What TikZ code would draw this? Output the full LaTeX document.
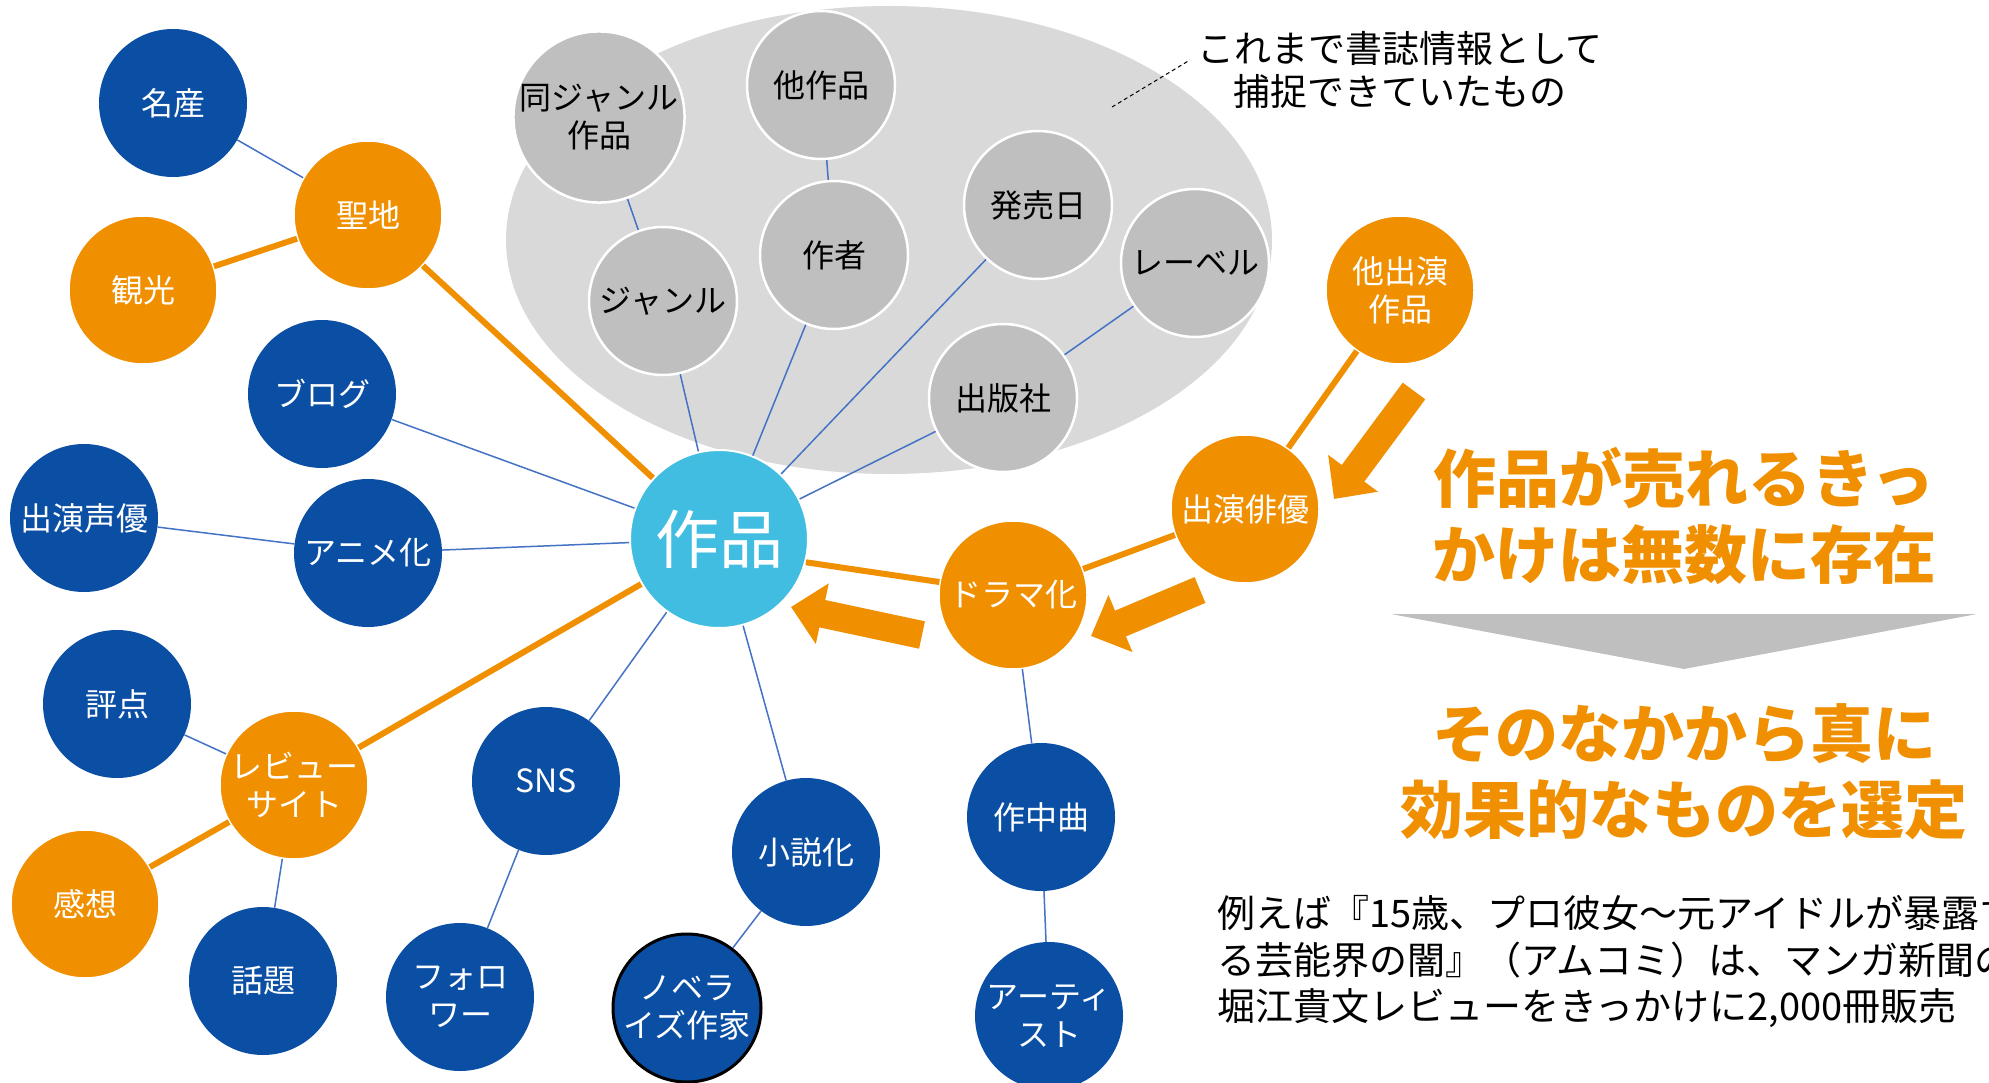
\documentclass[tikz,border=0pt]{standalone}
\usepackage{fontspec}
\newfontfamily\cjk{Noto Sans CJK JP}
\usetikzlibrary{arrows.meta}
\definecolor{nblue}{RGB}{11,79,164}
\definecolor{norange}{RGB}{240,144,0}
\definecolor{ncyan}{RGB}{64,189,224}
\definecolor{ngray}{RGB}{191,191,191}
\definecolor{nlgray}{RGB}{217,217,217}
\definecolor{nline}{RGB}{68,114,196}
\begin{document}
\begin{tikzpicture}[x=1pt,y=-1pt,
  base/.style={circle, minimum size=148pt, inner sep=0pt, align=center, font=\cjk\fontsize{32pt}{38pt}\selectfont},
  bnode/.style={base, fill=nblue, text=white},
  onode/.style={base, fill=norange, text=white, draw=white, line width=1.5pt},
  gnode/.style={base, fill=ngray, text=black, draw=white, line width=2.5pt},
  blink/.style={draw=nline, line width=1.5pt},
  olink/.style={draw=norange, line width=6pt},
  blockarrow/.style={draw=norange, line width=28pt, -{Triangle[width=60pt,length=32pt]}},
]
\useasboundingbox (0,0) rectangle (1989,1083);
\clip (0,0) rectangle (1989,1083);
\fill[white] (0,0) rectangle (1989,1083);

% grey cloud
\fill[nlgray] (889,240) ellipse [x radius=383, y radius=234];

% grey nodes
\node[gnode] (samegenre) at (599,117) {同ジャンル\\作品};
\node[gnode] (otherwork) at (821,85) {他作品};
\node[gnode] (genre) at (663,301) {ジャンル};
\node[gnode] (author) at (834,255) {作者};
\node[gnode] (release) at (1038,205) {発売日};
\node[gnode] (label) at (1195,263) {レーベル};
\node[gnode] (publisher) at (1003,398) {出版社};

% centre
\node[circle, minimum size=178pt, inner sep=0pt, fill=ncyan, draw=white, line width=2pt, text=white,
      font=\cjk\fontsize{64pt}{70pt}\selectfont] (work) at (719,539) {作品};

% left / bottom nodes
\node[bnode] (meisan) at (173,103) {名産};
\node[onode] (seichi) at (368,215) {聖地};
\node[onode] (kanko) at (143,290) {観光};
\node[bnode] (blog) at (322,394) {ブログ};
\node[bnode] (seiyu) at (84,518) {出演声優};
\node[bnode] (anime) at (368,553) {アニメ化};
\node[bnode] (hyoten) at (117,704) {評点};
\node[onode] (review) at (294,785) {レビュー\\サイト};
\node[onode] (kanso) at (85,904) {感想};
\node[bnode] (wadai) at (263,981) {話題};
\node[bnode] (sns) at (546,781) {SNS};
\node[bnode] (follower) at (460,997) {フォロ\\ワー};
\node[bnode] (novel) at (806,852) {小説化};
\node[bnode, draw=black, line width=3pt] (novelist) at (687,1008) {ノベラ\\イズ作家};
\node[bnode] (song) at (1041,817) {作中曲};
\node[bnode] (artist) at (1049,1016) {アーティ\\スト};
\node[onode] (drama) at (1013,595) {ドラマ化};
\node[onode] (actor) at (1245,509) {出演俳優};
\node[onode] (other) at (1400,290) {他出演\\作品};

% thin blue links
\draw[blink] (meisan) -- (seichi);
\draw[blink] (blog) -- (work);
\draw[blink] (seiyu) -- (anime);
\draw[blink] (anime) -- (work);
\draw[blink] (hyoten) -- (review);
\draw[blink] (review) -- (wadai);
\draw[blink] (sns) -- (work);
\draw[blink] (sns) -- (follower);
\draw[blink] (work) -- (novel);
\draw[blink] (novel) -- (novelist);
\draw[blink] (drama) -- (song);
\draw[blink] (song) -- (artist);
\draw[blink] (samegenre) -- (genre);
\draw[blink] (genre) -- (work);
\draw[blink] (otherwork) -- (author);
\draw[blink] (author) -- (work);
\draw[blink] (release) -- (work);
\draw[blink] (publisher) -- (work);
\draw[blink] (label) -- (publisher);

% thick orange links
\draw[olink] (kanko) -- (seichi);
\draw[olink] (seichi) -- (work);
\draw[olink] (review) -- (work);
\draw[olink] (kanso) -- (review);
\draw[olink] (work.-15) -- (drama.170);
\draw[olink] (drama) -- (actor);
\draw[olink] (actor) -- (other);

% block arrows
\coordinate (a1s) at (1414,391); \coordinate (a1e) at (1334,499);
\coordinate (a2s) at (1200,590); \coordinate (a2e) at (1091,636);
\coordinate (a3s) at (922,635);  \coordinate (a3e) at (791,607);
\draw[blockarrow] (a1s) -- (a1e);
\draw[blockarrow] (a2s) -- (a2e);
\draw[blockarrow] (a3s) -- (a3e);

% annotation
\node[align=center, inner sep=0pt, font=\cjk\fontsize{37pt}{43pt}\selectfont] (note) at (1400,70)
  {これまで書誌情報として\\捕捉できていたもの};
\coordinate (d1) at (1112,107); \coordinate (d2) at (1190,60);
\draw[dashed, dash pattern=on 4pt off 3pt, line width=1pt] (d1) -- (d2);

% headline
\node[align=center, inner sep=0pt, text=norange, font=\cjk\bfseries\fontsize{63pt}{76pt}\selectfont] (head1) at (1684,516)
  {作品が売れるきっ\\かけは無数に存在};
\fill[ngray] (1391,614) -- (1977,614) -- (1684,669) -- cycle;
\node[align=center, inner sep=0pt, text=norange, font=\cjk\bfseries\fontsize{63pt}{76pt}\selectfont] (head2) at (1684,772)
  {そのなかから真に\\効果的なものを選定};

% paragraph
\node[anchor=west, align=left, inner sep=0pt, font=\cjk\fontsize{38pt}{46.5pt}\selectfont] (para) at (1217,962)
  {例えば『15歳、プロ彼女～元アイドルが暴露す\\る芸能界の闇』（アムコミ）は、マンガ新聞の\\堀江貴文レビューをきっかけに2,000冊販売};
\end{tikzpicture}
\end{document}
